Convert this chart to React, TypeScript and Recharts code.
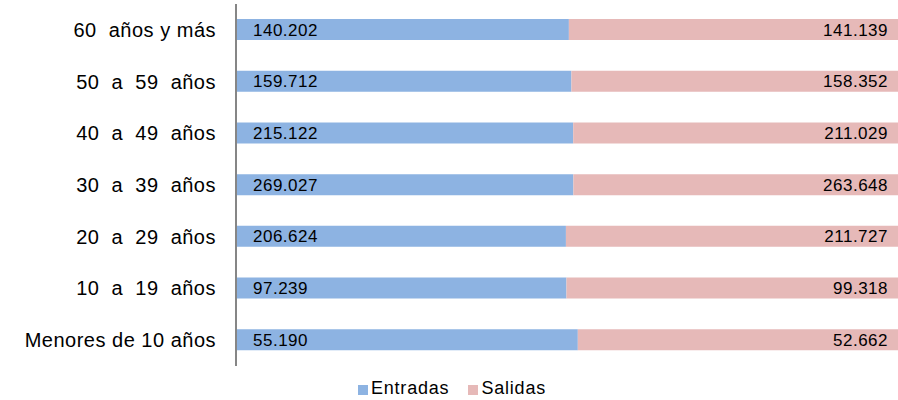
import { Bar, BarChart, LabelList, Legend, XAxis, YAxis } from "recharts";

const grupos = [
  "60  años y más",
  "50  a  59  años",
  "40  a  49  años",
  "30  a  39  años",
  "20  a  29  años",
  "10  a  19  años",
  "Menores de 10 años",
];
const entradas = [140202, 159712, 215122, 269027, 206624, 97239, 55190];
const salidas = [141139, 158352, 211029, 263648, 211727, 99318, 52662];

const BLUE = "#8DB3E2";
const PINK = "#E6B9B8";
const FONT = "'Liberation Sans', Arial, sans-serif";

const data = grupos.map((g, i) => ({
  grupo: g,
  entradas: entradas[i],
  salidas: salidas[i],
}));

const miles = (v: any) => String(v).replace(/\B(?=(\d{3})+(?!\d))/g, ".");

function GrupoTick({ x, y, payload }: any) {
  return (
    <text
      x={x}
      y={y}
      dy={7}
      textAnchor="end"
      fontSize={20}
      fill="#000"
      letterSpacing={0.5}
      style={{ whiteSpace: "pre", fontFamily: FONT }}
    >
      {payload.value}
    </text>
  );
}

function Leyenda() {
  const items = [
    { name: "Entradas", color: BLUE },
    { name: "Salidas", color: PINK },
  ];
  return (
    <div
      style={{
        display: "flex",
        justifyContent: "center",
        gap: 19,
        marginTop: 12,
        fontFamily: FONT,
        fontSize: 18,
        letterSpacing: 0.8,
        color: "#000",
      }}
    >
      {items.map((it) => (
        <span key={it.name} style={{ display: "flex", alignItems: "center" }}>
          <span
            style={{
              display: "inline-block",
              width: 10,
              height: 10,
              background: it.color,
              marginRight: 3,
              marginTop: 3,
            }}
          />
          {it.name}
        </span>
      ))}
    </div>
  );
}

export default function App() {
  return (
    <div style={{ position: "absolute", left: 0, top: 0, width: 898, height: 400, background: "#fff" }}>
      <BarChart
        width={898}
        height={400}
        data={data}
        layout="vertical"
        stackOffset="expand"
        barSize={21}
        margin={{ top: 4, right: -6, bottom: 4, left: 0 }}
      >
        <XAxis type="number" hide domain={[0, 1]} />
        <YAxis
          type="category"
          dataKey="grupo"
          width={236}
          tickLine={false}
          axisLine={{ stroke: "#868686", strokeWidth: 2 }}
          tick={<GrupoTick />}
          tickMargin={0}
          tickSize={20}
        />
        <Legend verticalAlign="bottom" height={30} content={<Leyenda />} />
        <Bar dataKey="entradas" name="Entradas" stackId="a" fill={BLUE} isAnimationActive={false}>
          <LabelList
            dataKey="entradas"
            position="insideLeft"
            offset={17}
            formatter={miles}
            fill="#000"
            fontSize={17}
            letterSpacing={0.5}
            fontFamily={FONT}
          />
        </Bar>
        <Bar dataKey="salidas" name="Salidas" stackId="a" fill={PINK} isAnimationActive={false}>
          <LabelList
            dataKey="salidas"
            position="insideRight"
            offset={16}
            formatter={miles}
            fill="#000"
            fontSize={17}
            letterSpacing={0.5}
            fontFamily={FONT}
          />
        </Bar>
      </BarChart>
    </div>
  );
}
